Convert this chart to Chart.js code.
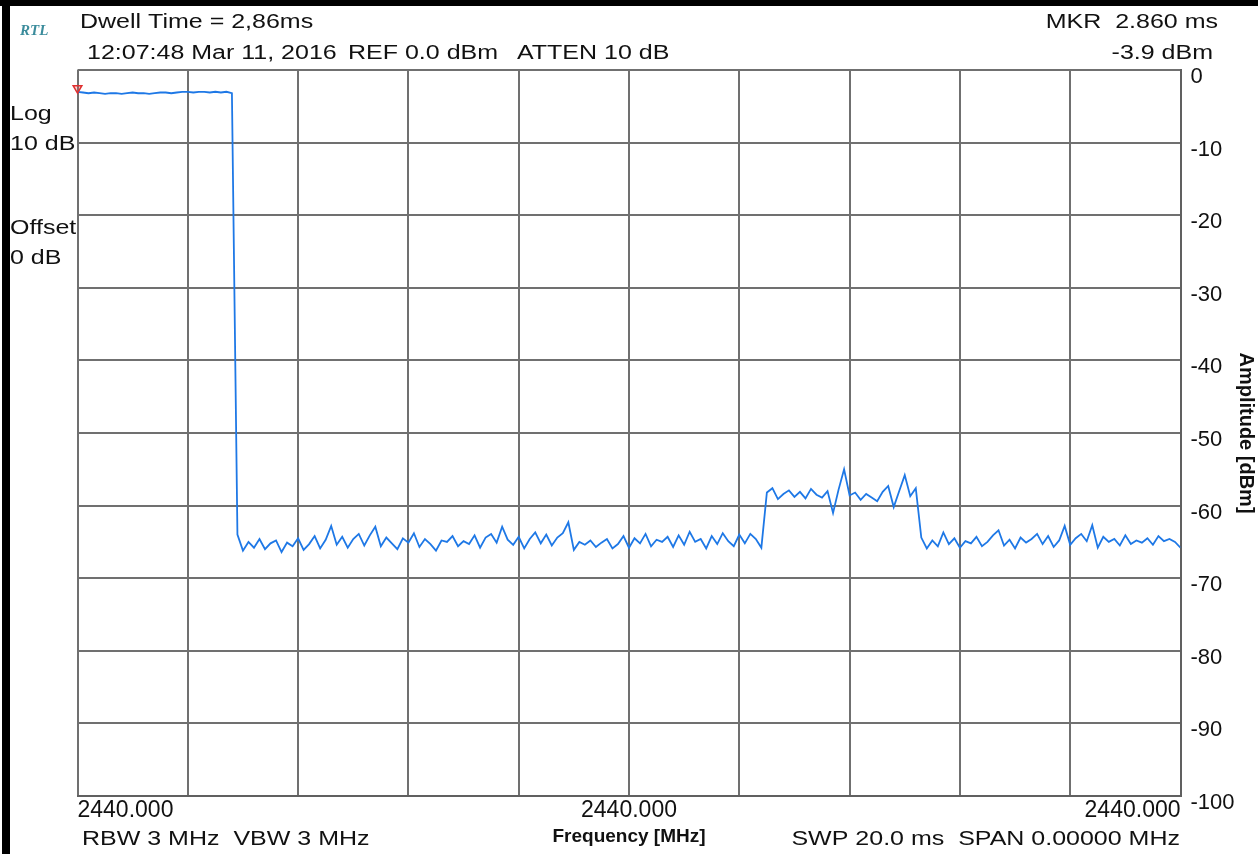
<!DOCTYPE html>
<html>
<head>
<meta charset="utf-8">
<script src="https://cdn.jsdelivr.net/npm/chart.js@4"></script>
<style>
  html, body { margin: 0; padding: 0; background: #fff; }
  #wrap { width: 1258px; height: 854px; }
</style>
</head>
<body>
<div id="wrap"><canvas id="saChart" width="1258" height="854"></canvas></div>
<script>
// zero span sweep, one reading every 0.1 ms over 20 ms
const sweepMs = 20;
const sampleStepMs = 0.1;
const levelDbm = [
  // burst on (0 - 2.8 ms)
  -3.0, -3.1, -3.2, -3.1, -3.2, -3.3, -3.2, -3.2, -3.3, -3.2,
  -3.1, -3.2, -3.2, -3.3, -3.2, -3.1, -3.1, -3.2, -3.1, -3.0,
  -3.0, -3.1, -3.0, -3.0, -3.1, -3.0, -3.1, -3.0, -3.2,
  // noise floor
  -64.0, -66.2, -65.0, -65.8, -64.6, -66.0, -65.2, -64.8, -66.4, -65.1,
  -65.6, -64.5, -66.1, -65.3, -64.2, -65.9, -64.7, -62.8, -65.4, -64.3,
  -65.8, -64.6, -63.9, -65.5, -64.1, -62.9, -65.6, -64.4, -65.2, -66.0,
  -64.5, -65.1, -63.8, -65.7, -64.6, -65.3, -66.2, -64.8, -65.0, -64.2,
  -65.6, -64.9, -65.3, -64.1, -65.8, -64.4, -63.9, -65.1, -62.9, -64.7,
  -65.4, -64.3, -65.9, -64.6, -63.7, -65.2, -64.0, -65.5, -64.4, -63.8,
  -62.3, -66.1, -65.0, -65.4, -64.8, -65.7, -65.1, -64.6, -65.9, -65.3,
  -64.2, -65.8, -64.5, -65.2, -63.9, -65.6, -64.7, -65.0, -64.3, -65.7,
  -64.1, -65.4, -63.6, -65.0, -64.6, -65.9, -64.2, -65.3, -63.8, -64.9,
  -65.6, -64.0, -65.2, -63.9, -64.6, -65.8,
  // weak burst (12.5 - 15.2 ms)
  -58.2, -57.6, -59.1, -58.4, -57.9, -58.8, -58.1, -59.0, -57.7, -58.5,
  -58.9, -58.0, -61.0, -57.8, -55.0, -58.6, -58.2, -59.2, -58.4, -58.9,
  -59.4, -58.1, -57.3, -60.2, -58.0, -55.8, -58.7, -57.6,
  // noise floor
  -64.4, -65.9, -64.8, -65.6, -63.7, -65.3, -64.5, -65.8, -64.9, -65.2,
  -64.3, -65.6, -65.0, -64.1, -63.4, -65.5, -64.7, -65.9, -64.4, -65.1,
  -64.6, -63.9, -65.3, -64.2, -65.7, -64.8, -62.8, -65.4, -64.5, -63.9,
  -64.9, -62.7, -65.8, -64.3, -65.0, -64.6, -65.5, -64.1, -65.3, -64.8,
  -65.1, -64.5, -65.4, -64.2, -64.9, -64.6, -65.0, -65.8
];
const markerMs = [0];
const markerDbm = [-2.5];
const centerFreqLabel = '2440.000';
const ampTicks = [0, -10, -20, -30, -40, -50, -60, -70, -80, -90, -100];

const FONT = '"Liberation Sans", Arial, sans-serif';
const TEXT_STRETCH = 1.25;

function stretchText(ctx, str, x, y, align) {
  ctx.save();
  ctx.translate(x, y);
  ctx.scale(TEXT_STRETCH, 1);
  ctx.textAlign = align;
  ctx.textBaseline = 'middle';
  ctx.fillText(str, 0, 0);
  ctx.restore();
}

const screenPlugin = {
  id: 'screen',
  beforeDraw(chart) {
    const ctx = chart.ctx;
    ctx.save();
    ctx.fillStyle = '#fff';
    ctx.fillRect(0, 0, chart.width, chart.height);
    ctx.fillStyle = '#000';
    ctx.fillRect(0, 0, chart.width, 6);
    ctx.fillRect(2, 0, 8, chart.height);
    ctx.restore();
  },
  afterDraw(chart) {
    const ctx = chart.ctx;
    ctx.save();
    ctx.fillStyle = '#111';
    ctx.font = '20px ' + FONT;
    stretchText(ctx, 'Dwell Time = 2,86ms', 80, 22, 'left');
    stretchText(ctx, '12:07:48 Mar 11, 2016', 87, 53, 'left');
    stretchText(ctx, 'REF 0.0 dBm', 348, 53, 'left');
    stretchText(ctx, 'ATTEN 10 dB', 517, 53, 'left');
    stretchText(ctx, 'MKR  2.860 ms', 1218, 22, 'right');
    stretchText(ctx, '-3.9 dBm', 1213, 53, 'right');
    stretchText(ctx, 'Log', 10, 114, 'left');
    stretchText(ctx, '10 dB', 10, 144, 'left');
    stretchText(ctx, 'Offset', 10, 228, 'left');
    stretchText(ctx, '0 dB', 10, 258, 'left');
    stretchText(ctx, 'RBW 3 MHz  VBW 3 MHz', 82, 839, 'left');
    stretchText(ctx, 'SWP 20.0 ms  SPAN 0.00000 MHz', 1180, 839, 'right');
    ctx.fillStyle = '#3b8c9c';
    ctx.font = 'italic bold 15px "Liberation Serif", serif';
    ctx.textBaseline = 'middle';
    ctx.textAlign = 'left';
    ctx.fillText('RTL', 20, 31);
    ctx.restore();
  }
};

const ctx = document.getElementById('saChart').getContext('2d');
const saChart = new Chart(ctx, {
  type: 'line',
  data: {
    datasets: [{
      label: 'Trace',
      data: levelDbm.map((v, i) => ({ x: i * sampleStepMs, y: v })),
      borderColor: '#1e78e6',
      borderWidth: 1.8,
      pointRadius: 0,
      tension: 0,
      order: 2
    }, {
      label: 'Marker',
      data: markerMs.map((t, i) => ({ x: t, y: markerDbm[i] })),
      showLine: false,
      clip: false,
      pointStyle: 'triangle',
      rotation: 180,
      pointRadius: 5,
      borderColor: '#e03030',
      backgroundColor: 'rgba(240,80,80,0.25)',
      borderWidth: 1.5,
      order: 1
    }]
  },
  options: {
    responsive: false,
    animation: false,
    layout: { padding: { top: 70, left: 77.5, right: 0, bottom: 0 } },
    plugins: {
      legend: { display: false },
      tooltip: { enabled: false }
    },
    scales: {
      x: {
        type: 'linear',
        min: 0,
        max: sweepMs,
        afterFit: (scale) => { scale.height = 58; },
        grid: { color: '#707070', lineWidth: 2, drawTicks: false },
        border: { color: '#606060', width: 2 },
        ticks: {
          stepSize: 2,
          autoSkip: false,
          maxRotation: 0,
          align: 'inner',
          padding: 1,
          color: '#111',
          font: { family: FONT, size: 23 },
          callback: (v) => (v === 0 || v === 10 || v === 20) ? centerFreqLabel : ''
        },
        title: {
          display: true,
          text: 'Frequency [MHz]',
          color: '#111',
          font: { family: FONT, size: 19, weight: 'bold' },
          padding: { top: 0, bottom: 6 }
        }
      },
      y: {
        position: 'right',
        min: -100,
        max: 0,
        afterFit: (scale) => { scale.width = 77.5; },
        afterBuildTicks: (scale) => { scale.ticks = ampTicks.map(v => ({ value: v })); },
        grid: { color: '#707070', lineWidth: 2, drawTicks: false },
        border: { color: '#606060', width: 2 },
        ticks: {
          padding: 10,
          labelOffset: 7,
          color: '#111',
          font: { family: FONT, size: 22 }
        },
        title: {
          display: true,
          text: 'Amplitude [dBm]',
          color: '#111',
          font: { family: FONT, size: 20, weight: 'bold' },
          padding: { top: 0, bottom: 2 }
        }
      }
    }
  },
  plugins: [screenPlugin]
});
</script>
</body>
</html>
